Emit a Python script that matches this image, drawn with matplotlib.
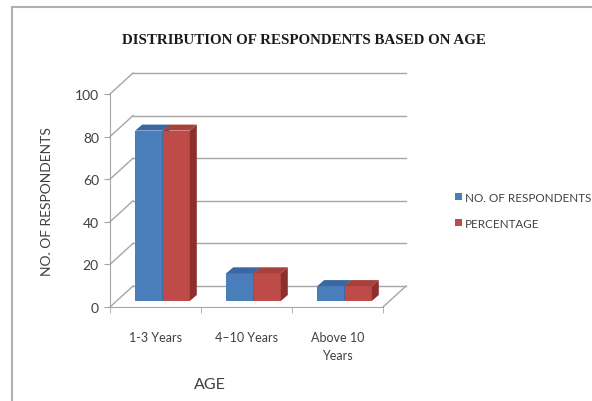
import numpy as np
import matplotlib
matplotlib.use("Agg")
import matplotlib.pyplot as plt
from matplotlib.patches import Polygon, Patch
from matplotlib.lines import Line2D
from matplotlib.transforms import IdentityTransform

plt.rcParams["font.family"] = ["Lato", "DejaVu Sans"]

# -- data -----------------------------------------------------------------------
categories = ["1-3 Years", "4\u201310 Years", "Above 10\nYears"]
series_names = ["NO. OF RESPONDENTS", "PERCENTAGE"]
respondents = [80, 13, 7]
percentage = [80, 13, 7]
y_ticks = [0, 20, 40, 60, 80, 100]

# -- styling --------------------------------------------------------------------
FRONT = ["#4a7ebb", "#be4b48"]
TOP = ["#3a67a3", "#a8403d"]
SIDE = ["#32578c", "#8c302d"]
GRID = "#a6a6a6"
TXT = "#404040"
WALL = (23, 21)          # depth of floor / back wall, in pixels
BAR_FRONT = (7, 6)       # bars sit a little behind the front plane
BAR_DEPTH = (7, 6)
BAR_W = 0.3

fig = plt.figure(figsize=(5.92, 4.02), dpi=100)
W, H = 592, 402
ax = fig.add_axes([110 / W, (H - 308) / H, 273 / W, 213 / H])
ax.set_xlim(0, 3)
ax.set_ylim(0, 100)
ax.set_facecolor("none")
for s in ["top", "right"]:
    ax.spines[s].set_visible(False)
ax.spines["left"].set_color(GRID)
ax.spines["bottom"].set_color(GRID)

ax.set_yticks(y_ticks)
ax.tick_params(axis="y", colors=GRID, length=4, labelcolor=TXT, labelsize=10, pad=4)
ax.set_xticks([0.5, 1.5, 2.5])
ax.set_xticklabels(categories, color=TXT, fontsize=9, va="top", linespacing=1.6)
ax.tick_params(axis="x", length=0, pad=17)
ax.set_xticks([0, 1, 2, 3], minor=True)
ax.tick_params(axis="x", which="minor", length=4, color=GRID)

ax.set_ylabel("NO. OF RESPONDENTS", color=TXT, fontsize=10, labelpad=16)
ax.set_xlabel("AGE", color=TXT, fontsize=11.5)
ax.xaxis.set_label_coords(0.365, -0.33)

ID = IdentityTransform()


def px(x, y, d=(0, 0)):
    p = ax.transData.transform((x, y))
    return (p[0] + d[0], p[1] + d[1])


def poly(pts, fc, z=2):
    ax.add_patch(Polygon(pts, closed=True, facecolor=fc, edgecolor="none",
                         transform=ID, clip_on=False, zorder=z))


def line(p0, p1):
    ax.add_line(Line2D([p0[0], p1[0]], [p0[1], p1[1]], color=GRID, lw=1.0,
                       transform=ID, clip_on=False, zorder=1))


# back wall gridlines and the diagonals joining them to the value axis
for v in y_ticks:
    line(px(0, v), px(0, v, WALL))
    line(px(0, v, WALL), px(3, v, WALL))
# right edge of the floor
line(px(3, 0), px(3, 0, WALL))

# 3-D style columns
back = (BAR_FRONT[0] + BAR_DEPTH[0], BAR_FRONT[1] + BAR_DEPTH[1])
for i in range(len(categories)):
    for k, vals in enumerate([respondents, percentage]):
        x0 = i + 0.5 - BAR_W + k * BAR_W
        x1 = x0 + BAR_W
        h = vals[i]
        poly([px(x0, 0, BAR_FRONT), px(x1, 0, BAR_FRONT),
              px(x1, h, BAR_FRONT), px(x0, h, BAR_FRONT)], FRONT[k], z=3 + k)
        poly([px(x0, h, BAR_FRONT), px(x1, h, BAR_FRONT),
              px(x1, h, back), px(x0, h, back)], TOP[k], z=3 + k)
        poly([px(x1, 0, BAR_FRONT), px(x1, 0, back),
              px(x1, h, back), px(x1, h, BAR_FRONT)], SIDE[k], z=3 + k)

fig.text(304 / W, 1 - 40 / H, "DISTRIBUTION OF RESPONDENTS BASED ON AGE",
         ha="center", va="center", fontsize=10.8, fontweight="bold",
         family="Liberation Serif", color="#1a1a1a")

handles = [Patch(facecolor=c, edgecolor="none") for c in FRONT]
fig.legend(handles, series_names, loc="upper left",
           bbox_to_anchor=(444 / W, 1 - 182 / H), frameon=False,
           fontsize=8.4, handlelength=0.6, handleheight=0.6, handletextpad=0.3,
           labelspacing=1.3, labelcolor=TXT)

# chart-area border
fig.add_artist(Line2D([12 / W, 12 / W], [0, 1 - 8 / H], color="#b0b0b0",
                      lw=1.5, transform=fig.transFigure))
fig.add_artist(Line2D([12 / W, 1], [1 - 8 / H, 1 - 8 / H], color="#b0b0b0",
                      lw=1.5, transform=fig.transFigure))

fig.savefig("out.png", dpi=100)
